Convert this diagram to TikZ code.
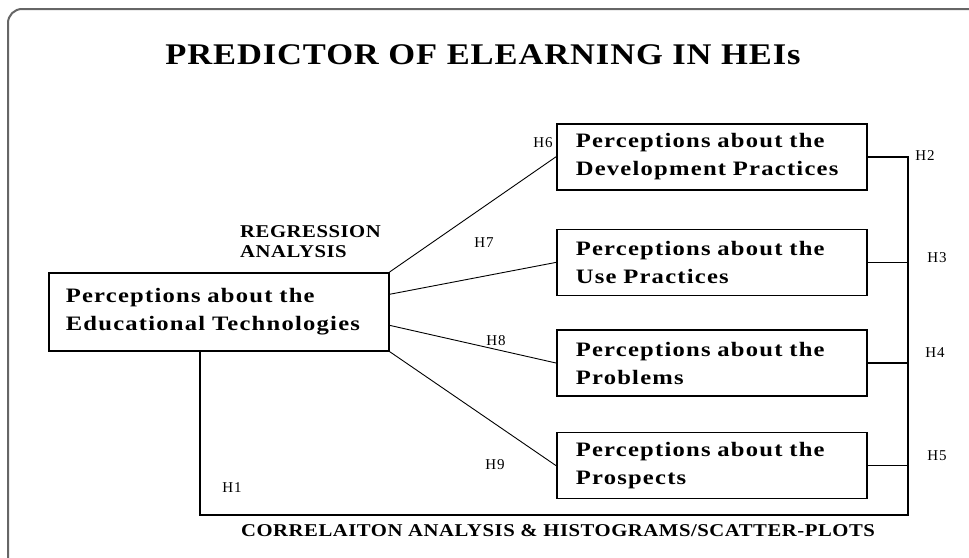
\documentclass[tikz,border=0pt]{standalone}
\usepackage{fontspec}
\setmainfont{Liberation Serif}
\newfontfamily\widefont[FakeStretch=1.2, LetterSpace=6, WordSpace=1.5]{Liberation Serif}
\newfontfamily\headfont[FakeStretch=1.15, LetterSpace=3]{Liberation Serif}
\usetikzlibrary{positioning, calc}

\newcommand{\percfont}{\widefont\bfseries\fontsize{20.5}{28}\selectfont}
\newcommand{\capsfont}[1]{\headfont\bfseries\fontsize{#1}{#1}\selectfont}

\begin{document}
\begin{tikzpicture}[x=1pt, y=-1pt,
    box/.style={draw, line width=1.6pt, text width=272pt, inner xsep=19pt, minimum height=66pt, align=left, font=\percfont},
    link/.style={draw, line width=0.9pt},
    bus/.style={draw, line width=1.5pt},
    hyp/.style={font=\fontsize{15}{17}\selectfont\addfontfeature{LetterSpace=6}}
  ]
    \useasboundingbox (0,0) rectangle (969,557);
    \draw[gray!80!black, line width=2pt, rounded corners=14pt] (8,580) -- (8,9) -- (990,9);

    \node[font=\capsfont{30}] (title) at (483,55) {PREDICTOR OF ELEARNING IN HEIs};

    \node[box, anchor=north west, text width=306pt, inner xsep=17pt, minimum height=78pt] (tech) at (48,272) {Perceptions about the\\Educational Technologies};
    \node[box, anchor=north west] (dev) at (556,123) {Perceptions about the\\Development Practices};
    \node[box, below=38pt of dev] (use) {Perceptions about the\\Use Practices};
    \node[box, below=33pt of use] (prob) {Perceptions about the\\Problems};
    \node[box, below=35pt of prob] (pros) {Perceptions about the\\Prospects};

    \node[font=\capsfont{18}, align=left, anchor=south west, inner xsep=0pt] (reg) at (240,261) {REGRESSION\\[2pt]ANALYSIS};

    \coordinate (bl) at (200,515);
    \coordinate (br) at (908,515);

    % regression links
    \draw[link] (tech.north east) -- (dev.west);
    \draw[link] ($(tech.north east)!0.28!(tech.south east)$) -- (use.west);
    \draw[link] ($(tech.north east)!0.67!(tech.south east)$) -- (prob.west);
    \draw[link] (tech.south east) -- (pros.west);

    % correlation links
    \draw[bus] (tech.south -| bl) -- (bl) -- (br) |- (dev.east);
    \foreach \b in {use, prob, pros}
      \draw[bus] (\b.east) -- (\b.east -| br);

    \node[hyp] (h1) at (232,488) {H1};
    \node[hyp] (h2) at (925,156) {H2};
    \node[hyp] (h3) at (937,258) {H3};
    \node[hyp] (h4) at (935,353) {H4};
    \node[hyp] (h5) at (937,456) {H5};
    \node[hyp] (h6) at (543,143) {H6};
    \node[hyp] (h7) at (484,243) {H7};
    \node[hyp] (h8) at (496,341) {H8};
    \node[hyp] (h9) at (495,465) {H9};

    \node[font=\capsfont{18}] (corr) at (558,531) {CORRELAITON ANALYSIS \& HISTOGRAMS/SCATTER-PLOTS};
\end{tikzpicture}
\end{document}
